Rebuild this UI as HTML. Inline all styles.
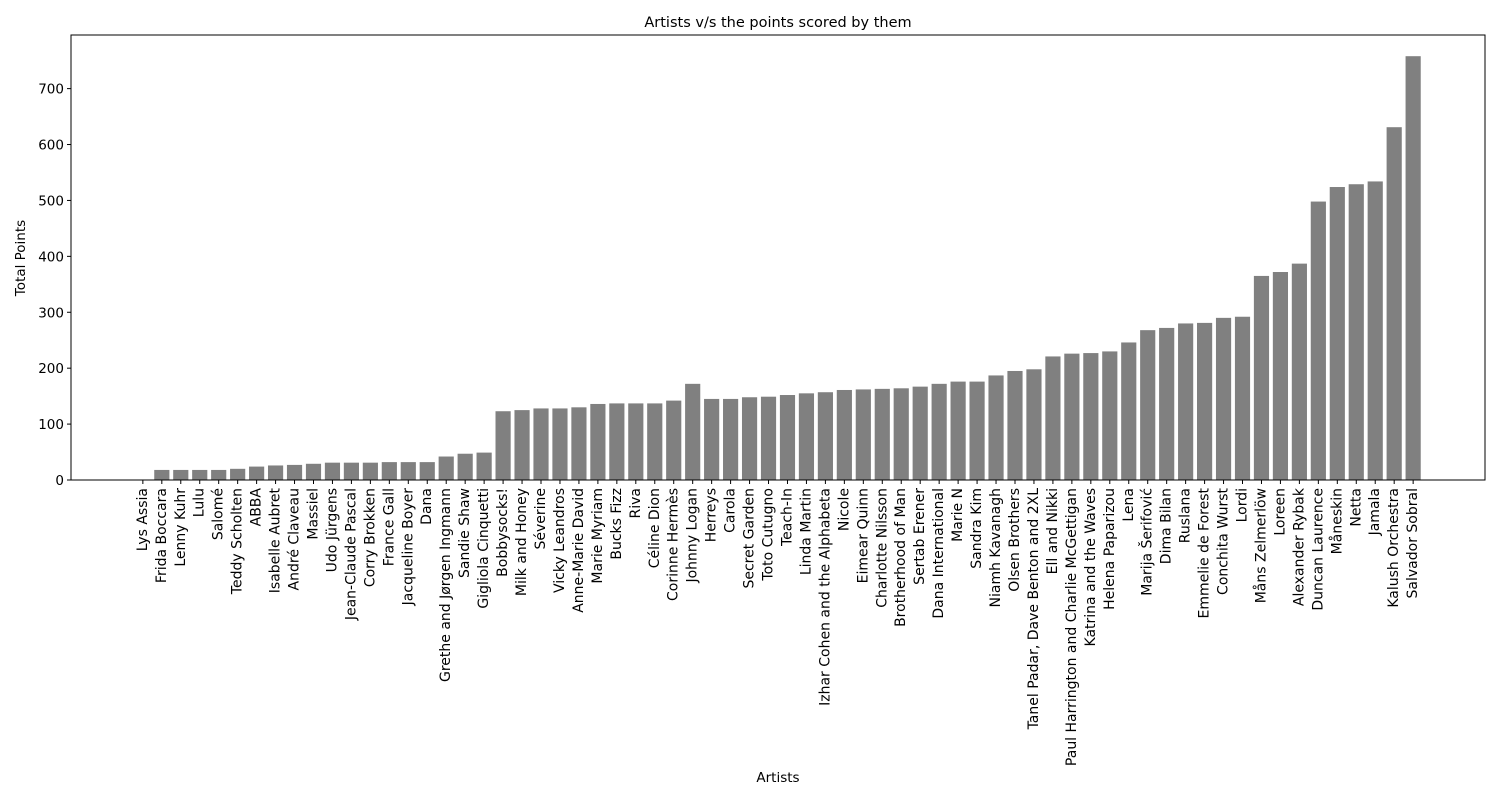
<!DOCTYPE html>
<html><head><meta charset="utf-8"><style>
body{margin:0;background:#fff;font-family:"Liberation Sans","DejaVu Sans",sans-serif}
svg text{font-family:"DejaVu Sans","Liberation Sans",sans-serif;fill:#000}
</style></head><body>
<svg id="chart" width="1500" height="800" xmlns="http://www.w3.org/2000/svg">
<text x="778" y="27" font-size="14.5" text-anchor="middle">Artists v/s the points scored by them</text>
<text x="778" y="782" font-size="13.5" text-anchor="middle">Artists</text>
<text transform="translate(25,258) rotate(-90)" font-size="13.5" text-anchor="middle">Total Points</text>
<g id="bars"></g><g id="xt"></g><g id="yt"></g>
<rect x="71" y="35" width="1414" height="445" fill="none" stroke="#000" stroke-width="1"/>
</svg>
<script>
const artists=["Lys Assia","Frida Boccara","Lenny Kuhr","Lulu","Salomé","Teddy Scholten","ABBA","Isabelle Aubret","André Claveau","Massiel","Udo Jürgens","Jean-Claude Pascal","Corry Brokken","France Gall","Jacqueline Boyer","Dana","Grethe and Jørgen Ingmann","Sandie Shaw","Gigliola Cinquetti","Bobbysocks!","Milk and Honey","Séverine","Vicky Leandros","Anne-Marie David","Marie Myriam","Bucks Fizz","Riva","Céline Dion","Corinne Hermès","Johnny Logan","Herreys","Carola","Secret Garden","Toto Cutugno","Teach-In","Linda Martin","Izhar Cohen and the Alphabeta","Nicole","Eimear Quinn","Charlotte Nilsson","Brotherhood of Man","Sertab Erener","Dana International","Marie N","Sandra Kim","Niamh Kavanagh","Olsen Brothers","Tanel Padar, Dave Benton and 2XL","Ell and Nikki","Paul Harrington and Charlie McGettigan","Katrina and the Waves","Helena Paparizou","Lena","Marija Šerifović","Dima Bilan","Ruslana","Emmelie de Forest","Conchita Wurst","Lordi","Måns Zelmerlöw","Loreen","Alexander Rybak","Duncan Laurence","Måneskin","Netta","Jamala","Kalush Orchestra","Salvador Sobral"];
const points=[0,18,18,18,18,20,24,26,27,29,31,31,31,32,32,32,42,47,49,123,125,128,128,130,136,137,137,137,142,172,145,145,148,149,152,155,157,161,162,163,164,167,172,176,176,187,195,198,221,226,227,230,246,268,272,280,281,290,292,365,372,387,498,524,529,534,631,758];
const yTicks=[0,100,200,300,400,500,600,700];
const NS="http://www.w3.org/2000/svg";
const L=71,R=1485,T=35,B=480;
const n=artists.length;
const xmin=-0.4-0.05*(n-0.2), xmax=n-0.6+0.05*(n-0.2);
const ymax=Math.max(...points)*1.05;
const xs=i=>L+(i-xmin)/(xmax-xmin)*(R-L);
const ys=v=>B-v/ymax*(B-T);
const bw=0.8*(R-L)/(xmax-xmin);
const gb=document.getElementById('bars'),gx=document.getElementById('xt'),gy=document.getElementById('yt');
function mk(t,a){const e=document.createElementNS(NS,t);for(const k in a)e.setAttribute(k,a[k]);return e;}
artists.forEach((a,i)=>{
  const r=mk('rect',{x:xs(i)-bw/2,y:ys(points[i]),width:bw,height:B-ys(points[i]),fill:'#808080'});
  
  
  gb.appendChild(r);
  const tk=mk('line',{x1:xs(i),x2:xs(i),y1:B,y2:B+4,stroke:'#000'});
  
  
  gx.appendChild(tk);
  const t=mk('text',{transform:`translate(${xs(i)+4},${B+8}) rotate(-90)`,'font-size':'14','text-anchor':'end'});
  t.textContent=a;
  
  
  gx.appendChild(t);
});
yTicks.forEach(v=>{
  const tk=mk('line',{x1:L-4,x2:L,y1:ys(v),y2:ys(v),stroke:'#000'});
  
  
  gy.appendChild(tk);
  const t=mk('text',{x:L-7,y:ys(v)+5,'font-size':'13.5','text-anchor':'end'});
  t.textContent=v;
  
  
  gy.appendChild(t);
});
</script>
</body></html>
